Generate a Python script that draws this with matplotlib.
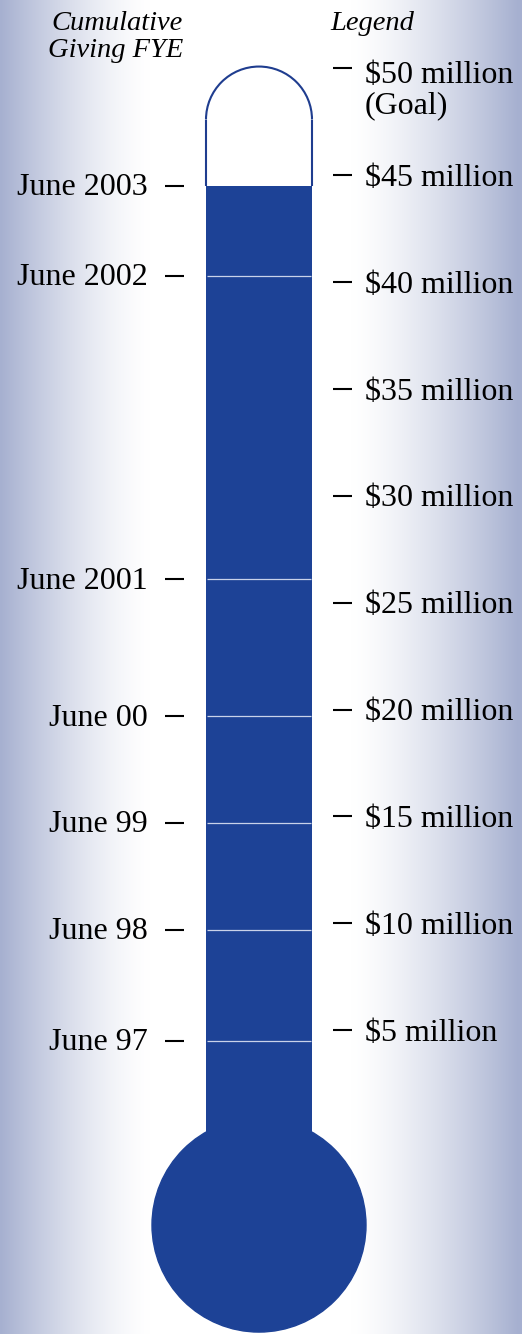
import numpy as np
import matplotlib.pyplot as plt
from matplotlib.patches import Ellipse, Arc

# cumulative giving at each fiscal year end ($ million)
dates = ["June 97", "June 98", "June 99", "June 00", "June 2001", "June 2002", "June 2003"]
giving = [4.5, 9.7, 14.7, 19.7, 26.1, 40.3, 44.5]
# legend scale
money_ticks = [5, 10, 15, 20, 25, 30, 35, 40, 45, 50]
money_labels = ["$5 million", "$10 million", "$15 million", "$20 million", "$25 million",
                "$30 million", "$35 million", "$40 million", "$45 million", "$50 million\n(Goal)"]
goal = 50

W, H = 522, 1334
PX = 21.375          # pixels per $1 million
ZERO = 1137          # pixel row of $0
BLUE = "#1d4296"
SERIF = ["Liberation Serif", "DejaVu Serif"]

fig = plt.figure(figsize=(W / 100, H / 100), dpi=100)
ax = fig.add_axes([0, 0, 1, 1])
ax.set_xlim(0, W)
ax.set_ylim((ZERO - H) / PX, ZERO / PX)
ax.axis("off")

# background: lavender edges fading to white
xs = np.arange(W)
edge = np.array([166, 176, 208]) / 255
t = np.clip(np.maximum((150 - xs) / 150, (xs - 350) / 168), 0, 1) ** 1.4
rgb = 1 - t[:, None] * (1 - edge[None, :])
img = np.repeat(rgb[None, :, :], 2, axis=0)
ax.imshow(img, extent=[0, W, ax.get_ylim()[0], ax.get_ylim()[1]], aspect="auto", zorder=0)

# thermometer
cx, tube_w = 259, 106
top_v = goal - 2.4                      # where the rounded cap starts
ax.bar(cx, top_v, width=tube_w, bottom=0, color="white", zorder=1)
ax.add_patch(Ellipse((cx, top_v), tube_w, tube_w / PX, color="white", zorder=1))
ax.add_patch(Arc((cx, top_v), tube_w, tube_w / PX, theta1=0, theta2=180,
                 color="#1f3d8f", lw=1.5, zorder=3))
ax.vlines([cx - tube_w / 2, cx + tube_w / 2], giving[-1], top_v, color="#1f3d8f", lw=1.5, zorder=3)

# mercury
ax.bar(cx, giving[-1] + 5.3, width=tube_w, bottom=-5.3, color=BLUE, zorder=2)
ax.add_patch(Ellipse((cx, -4.12), 214, 214 / PX, color=BLUE, zorder=2))
ax.hlines(giving[:-1], cx - tube_w / 2 + 1, cx + tube_w / 2 - 1, color="#c9d2ea", lw=0.9, zorder=3)

# left: fiscal year-end marks
ax.hlines(giving, 165, 184, color="black", lw=1.5)
for d, v in zip(dates, giving):
    ax.text(148, v - 0.1, d, ha="right", va="center", fontsize=23, family=SERIF)

# right: legend marks
ax.hlines(money_ticks, 333, 352, color="black", lw=1.5)
for m, lab in zip(money_ticks, money_labels):
    if "\n" in lab:
        ax.text(365, m + 0.35, lab, ha="left", va="top", fontsize=23, family=SERIF, linespacing=1.05)
    else:
        ax.text(365, m - 0.15, lab, ha="left", va="center", fontsize=23, family=SERIF)

ax.text(183, (ZERO - 11) / PX, "Cumulative\nGiving FYE", ha="right", va="top", fontsize=20.5,
        style="italic", family=SERIF, linespacing=1.08)
ax.text(330, (ZERO - 11) / PX, "Legend", ha="left", va="top", fontsize=20.5, style="italic", family=SERIF)

fig.savefig("out.png", dpi=100)
